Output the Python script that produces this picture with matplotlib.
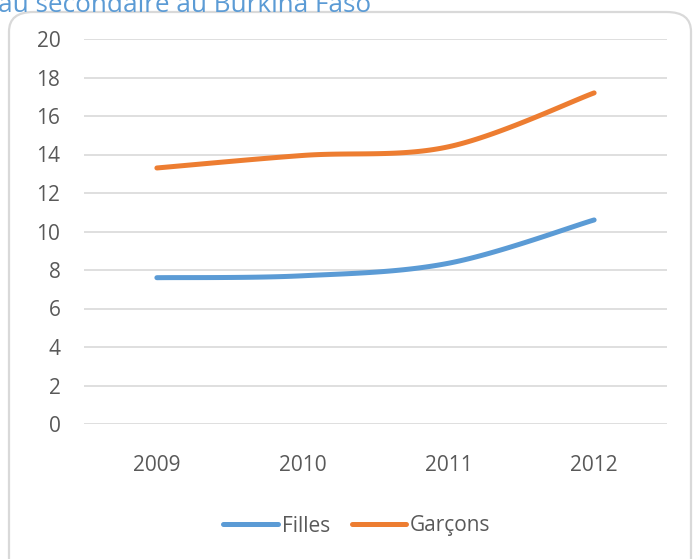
import numpy as np
import matplotlib
matplotlib.use("Agg")
import matplotlib.pyplot as plt
from matplotlib.patches import FancyBboxPatch
from matplotlib.lines import Line2D

years = ["2009", "2010", "2011", "2012"]
filles = [7.6, 7.7, 8.35, 10.6]
garcons = [13.3, 13.95, 14.4, 17.2]
yticks = [0, 2, 4, 6, 8, 10, 12, 14, 16, 18, 20]
title = "au secondaire au Burkina Faso"

W, H = 695, 559
fig = plt.figure(figsize=(W / 100, H / 100), dpi=100)
fig.patch.set_facecolor("white")

FONT = ["Open Sans", "DejaVu Sans"]
GREY = "#595959"

# rounded frame
box = FancyBboxPatch((9 / W, -30 / H), 682 / W, (H - 12 + 30) / H,
                     boxstyle="round,pad=0,rounding_size=0.035",
                     transform=fig.transFigure, facecolor="white",
                     edgecolor="#D9D9D9", linewidth=1.6, zorder=-5)
fig.patches.append(box)

fig.text(-2 / W, 1 - 5 / H, title, fontsize=18.8, color="#5B9BD5",
         family=FONT, va="center", ha="left")

ax = fig.add_axes([84 / W, 1 - 424 / H, (667 - 84) / W, (424 - 39) / H])
ax.set_facecolor("none")
ax.set_zorder(2)


def smooth(xs, ys, n=40):
    xs = np.asarray(xs, float)
    ys = np.asarray(ys, float)
    px = np.concatenate([[xs[0]], xs, [xs[-1]]])
    py = np.concatenate([[ys[0]], ys, [ys[-1]]])
    ox, oy = [], []
    t = np.linspace(0, 1, n)
    for i in range(len(xs) - 1):
        p0 = np.array([xs[i], ys[i]])
        p3 = np.array([xs[i + 1], ys[i + 1]])
        p1 = p0 + (np.array([px[i + 2], py[i + 2]]) - np.array([px[i], py[i]])) / 6
        p2 = p3 - (np.array([px[i + 3], py[i + 3]]) - np.array([px[i + 1], py[i + 1]])) / 6
        b = ((1 - t) ** 3)[:, None] * p0 + (3 * (1 - t) ** 2 * t)[:, None] * p1 \
            + (3 * (1 - t) * t ** 2)[:, None] * p2 + (t ** 3)[:, None] * p3
        ox.extend(b[:, 0]); oy.extend(b[:, 1])
    return np.array(ox), np.array(oy)


x = np.arange(len(years))
BLUE = "#5B9BD5"
ORANGE = "#ED7D31"
for vals, col in [(filles, BLUE), (garcons, ORANGE)]:
    sx, sy = smooth(x, vals)
    ax.plot(sx, sy, color=col, lw=3.6, solid_capstyle="round", zorder=3)

ax.set_xlim(-0.5, len(years) - 0.5)
ax.set_ylim(0, 20)
ax.set_yticks(yticks)
ax.set_xticks(x)
ax.set_xticklabels(years)
ax.grid(axis="y", color="#D9D9D9", lw=1.2)
ax.set_axisbelow(True)
for s in ax.spines.values():
    s.set_visible(False)
ax.tick_params(length=0, labelsize=15, colors=GREY)
ax.tick_params(axis="x", pad=22)
ax.tick_params(axis="y", pad=17)
for lab in ax.get_xticklabels() + ax.get_yticklabels():
    lab.set_family(FONT)
    lab.set_color(GREY)

handles = [Line2D([0], [0], color=BLUE, lw=3.6, solid_capstyle="round"),
           Line2D([0], [0], color=ORANGE, lw=3.6, solid_capstyle="round")]
leg = fig.legend(handles, ["Filles", "Garçons"], loc="center",
                 bbox_to_anchor=(357 / W, 1 - 526 / H), ncol=2, frameon=False,
                 handlelength=2.6, handletextpad=0.2, columnspacing=1.05,
                 prop={"family": FONT, "size": 15})
for t in leg.get_texts():
    t.set_color(GREY)

fig.savefig("out.png", dpi=100, facecolor="white")
